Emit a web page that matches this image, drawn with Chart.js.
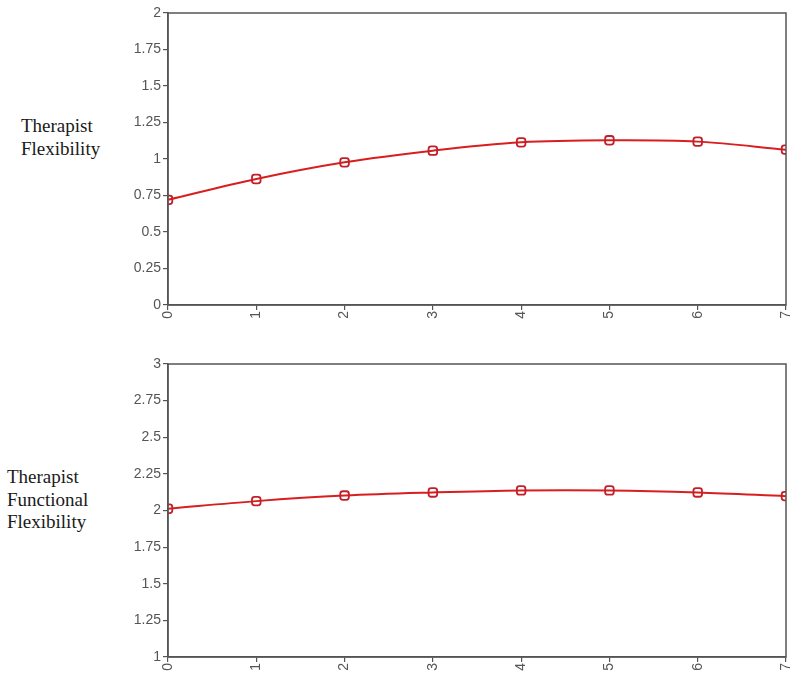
<!DOCTYPE html>
<html>
<head>
<meta charset="utf-8">
<script src="https://cdn.jsdelivr.net/npm/chart.js@4.4.1/dist/chart.umd.min.js"></script>
<style>
    body { margin: 0; background: #fff; }
    #wrap { position: relative; width: 800px; height: 679px; }
    canvas { position: absolute; left: 0; }
    .label {
        position: absolute;
        font-family: "Liberation Serif", "Times New Roman", serif;
        font-size: 19px;
        line-height: 22.5px;
        color: #1a1a1a;
    }
</style>
</head>
<body>
<div id="wrap">
    <div class="label" style="left:21px; top:115px;">Therapist<br>Flexibility</div>
    <div class="label" style="left:7px; top:466px;">Therapist<br>Functional<br>Flexibility</div>
    <canvas id="topChart" style="top:0"></canvas>
    <canvas id="bottomChart" style="top:340px"></canvas>
</div>
<script>
// Data
const timePoints = ["0", "1", "2", "3", "4", "5", "6", "7"];
const flexibility = [0.72, 0.863, 0.977, 1.057, 1.114, 1.128, 1.119, 1.064];
const functionalFlexibility = [2.012, 2.064, 2.102, 2.123, 2.137, 2.137, 2.123, 2.098];

const axisColor = "#555";
const lineColor = "#d81e1e";
const tickFont = { family: "'Liberation Sans', Arial, sans-serif", size: 14 };

// draws the box round the plot area
const frame = {
    id: "frame",
    afterDraw(chart) {
        const { ctx, chartArea: a } = chart;
        ctx.save();
        ctx.strokeStyle = axisColor;
        ctx.lineWidth = 1.5;
        ctx.strokeRect(a.left, a.top, a.right - a.left, a.bottom - a.top);
        ctx.restore();
    },
};

function makeChart(id, values, yMin, yMax, height, padTop, xHeight) {
    const cv = document.getElementById(id);
    cv.width = 800;
    cv.height = height;
    return new Chart(cv.getContext("2d"), {
        type: "line",
        data: {
            labels: timePoints,
            datasets: [{
                data: values,
                clip: 0,
                borderColor: lineColor,
                borderWidth: 2,
                tension: 0.35,
                pointStyle: "rectRounded",
                pointRadius: 5,
                pointBorderWidth: 1.8,
                pointBorderColor: "#c0202a",
                pointBackgroundColor: "rgba(0,0,0,0)",
            }],
        },
        options: {
            responsive: false,
            animation: false,
            devicePixelRatio: 1,
            layout: { padding: { left: 0, right: 14, top: padTop, bottom: 0 } },
            plugins: { legend: { display: false }, tooltip: { enabled: false } },
            scales: {
                x: {
                    offset: false,
                    grid: { drawOnChartArea: false, tickLength: 5, color: axisColor, lineWidth: 1.2 },
                    border: { color: axisColor, width: 1.5 },
                    ticks: { color: axisColor, font: tickFont, minRotation: 90, maxRotation: 90, padding: 1 },
                    afterFit: (s) => { s.height = xHeight; s.paddingRight = 0; },
                },
                y: {
                    min: yMin,
                    max: yMax,
                    grid: { drawOnChartArea: false, tickLength: 5, color: axisColor, lineWidth: 1.2 },
                    border: { color: axisColor, width: 1.5 },
                    ticks: {
                        stepSize: 0.25,
                        color: axisColor,
                        font: tickFont,
                        padding: 2,
                        callback: (v) => String(+v.toFixed(2)),
                    },
                    afterFit: (s) => { s.width = 168; },
                },
            },
        },
        plugins: [frame],
    });
}

makeChart("topChart", flexibility, 0, 2, 340, 13, 35);
makeChart("bottomChart", functionalFlexibility, 1, 3, 339, 24, 22);
</script>
</body>
</html>
